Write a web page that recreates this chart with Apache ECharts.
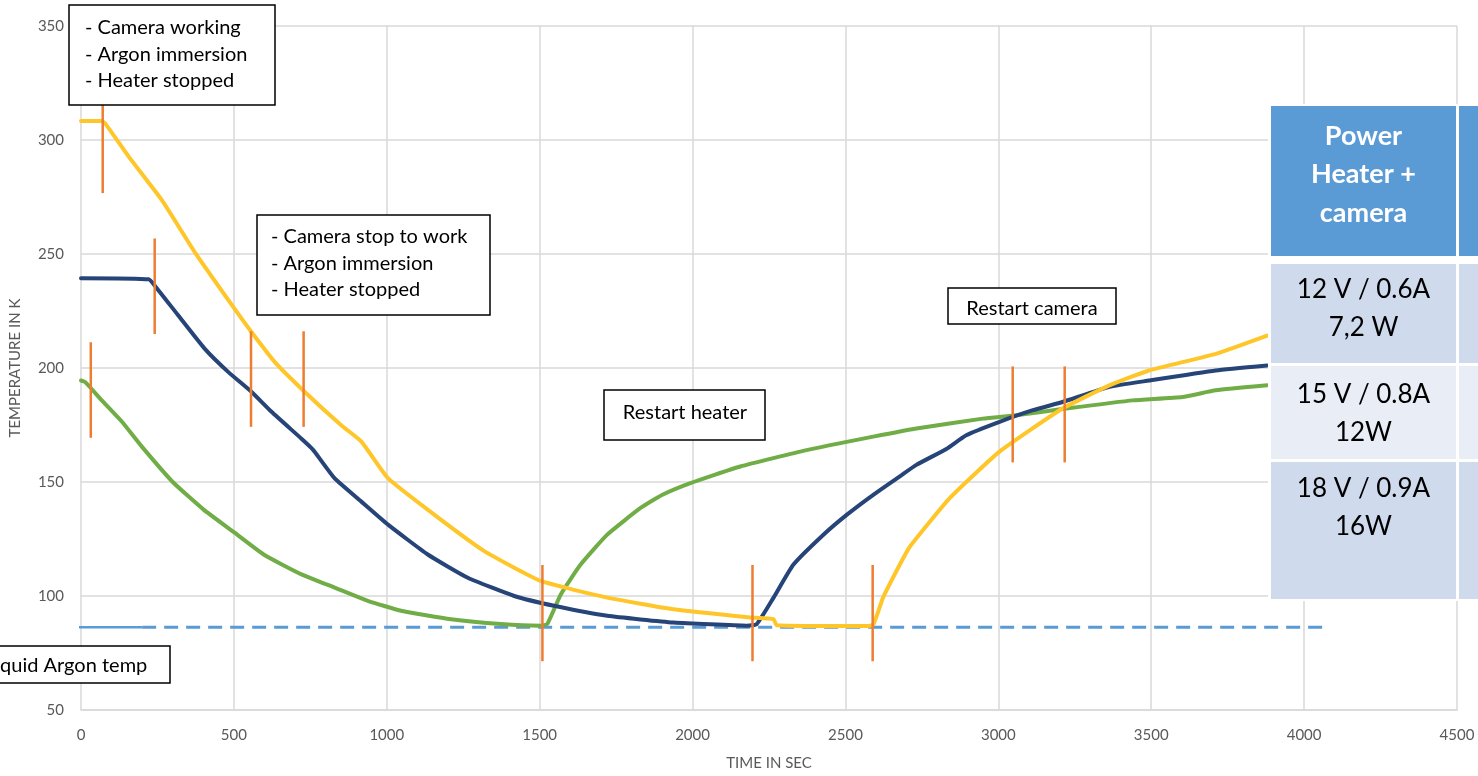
<!DOCTYPE html>
<html>
<head>
<meta charset="utf-8">
<title>Camera heater test</title>
<script src="https://cdn.jsdelivr.net/npm/echarts@6/dist/echarts.min.js"></script>
<style>
  html, body { margin: 0; padding: 0; background: #fff; }
  #chart { width: 1478px; height: 776px; }
</style>
</head>
<body>
<div id="chart"></div>
<script>
// yellow curve (time in s, temperature in K)
var yellowTime = [0, 68, 79, 156, 264, 373, 503, 558, 634, 732, 851, 917, 1004, 1156, 1319, 1504, 1721, 1938, 2189, 2265, 2275, 2569, 2591, 2623, 2678, 2710, 2841, 3004, 3210, 3363, 3493, 3711, 3879];
var yellowTemp = [308.3, 308.3, 307.3, 292.7, 273.7, 250.6, 225.8, 215.7, 202.6, 189.5, 174.9, 167.7, 151.7, 135.6, 119.7, 106.6, 99.3, 94.2, 90.6, 89.8, 87.2, 86.8, 87.4, 99.3, 113.8, 121.5, 142.9, 163.3, 182.2, 192.4, 198.9, 206.2, 214.2];

// blue curve
var blueTime = [0, 221, 242, 319, 405, 482, 558, 623, 721, 753, 764, 829, 916, 1004, 1134, 1265, 1417, 1547, 1721, 1938, 2178, 2210, 2265, 2330, 2428, 2504, 2591, 2678, 2732, 2830, 2895, 3004, 3113, 3210, 3363, 3493, 3711, 3879];
var blueTemp = [239.4, 238.9, 236, 222.9, 208.4, 198.2, 189.5, 180.8, 169.0, 165.0, 163.3, 151.7, 141.5, 131.3, 118.2, 108.0, 100.0, 95.7, 91.3, 88.4, 87.0, 87.7, 99.3, 113.8, 126.9, 135.6, 144.4, 152.5, 157.5, 164.5, 170.5, 176.4, 181.5, 185.1, 191.7, 194.5, 198.9, 201.1];

// green curve
var greenTime = [0, 14, 68, 134, 199, 300, 400, 500, 600, 721, 829, 938, 1047, 1210, 1373, 1504, 1525, 1569, 1634, 1721, 1830, 1900, 1993, 2156, 2373, 2591, 2732, 2949, 3058, 3221, 3439, 3602, 3711, 3879];
var greenTemp = [194.5, 193.8, 185.8, 176.4, 165.5, 150, 138, 128, 118, 109.5, 103.7, 97.9, 93.5, 89.8, 87.7, 87.0, 87.7, 100.7, 113.8, 126.9, 138.6, 144.3, 149.5, 156.8, 164.0, 169.9, 173.5, 177.8, 179.3, 182.2, 185.8, 187.3, 190.2, 192.4];

// liquid argon reference
var argonTemp = 86.3;
var argonSolidTime = [-258, 200];
var argonDashTime = [200, 4060];

// event markers: time, low, high
var markTime = [71, 241, 32, 556, 728, 1509, 2196, 2589, 3047, 3217];
var markLow = [276.7, 214.9, 169.4, 174.2, 174.2, 71.4, 71.4, 71.4, 158.6, 158.6];
var markHigh = [318.6, 256.8, 211.3, 216.1, 216.1, 113.6, 113.6, 113.6, 200.7, 200.7];

var xTicks = { min: 0, max: 4500, interval: 500 };
var yTicks = { min: 50, max: 350, interval: 50 };

// table on the right
var tableHeader = ['Power', 'Heater +', 'camera'];
var tableRows = [
  ['12 V / 0.6A', '7,2 W'],
  ['15 V / 0.8A', '12W'],
  ['18 V / 0.9A', '16W']
];

var FONT = 'Lato, "Open Sans", sans-serif';
var TOP_Z = 100;

function zip(ts, vs) {
  var out = [];
  for (var i = 0; i < ts.length; i++) {
    out.push([ts[i], vs[i]]);
  }
  return out;
}

function lineSeries(name, ts, vs, color, width) {
  return {
    name: name,
    type: 'line',
    data: zip(ts, vs),
    showSymbol: false,
    symbol: 'none',
    smooth: 0.15,
    lineStyle: { color: color, width: width, cap: 'round', join: 'round' },
    z: 3
  };
}

// text box with border
function makeBox(x, y, w, h, lines, tx, ty, gap, align) {
  var children = [{
    type: 'rect',
    z: TOP_Z,
    shape: { x: x, y: y, width: w, height: h },
    style: { fill: '#fff', stroke: '#000', lineWidth: 1.5 }
  }];
  for (var i = 0; i < lines.length; i++) {
    children.push({
      type: 'text',
      z: TOP_Z + 1,
      style: {
        text: lines[i], x: tx, y: ty + i * gap,
        font: '20px ' + FONT, fill: '#000',
        textAlign: align || 'left', textVerticalAlign: 'middle'
      }
    });
  }
  return { type: 'group', children: children };
}

function makeTable() {
  var children = [];
  var cellX = 1271, cellW = 185, col2X = 1459;
  var rowsY = [[106, 150], [264, 99], [366, 93], [462, 137]];
  var fills = ['#5b9bd5', '#cfdaed', '#e8edf6', '#cfdaed'];
  // white backing so the grid does not show through the gaps
  children.push({ type: 'rect', z: TOP_Z, shape: { x: 1268, y: 104, width: 220, height: 497 }, style: { fill: '#fff' } });
  for (var i = 0; i < rowsY.length; i++) {
    children.push({ type: 'rect', z: TOP_Z, shape: { x: cellX, y: rowsY[i][0], width: cellW, height: rowsY[i][1] }, style: { fill: fills[i] } });
    children.push({ type: 'rect', z: TOP_Z, shape: { x: col2X, y: rowsY[i][0], width: 30, height: rowsY[i][1] }, style: { fill: fills[i] } });
  }
  for (var h = 0; h < tableHeader.length; h++) {
    children.push({
      type: 'text',
      z: TOP_Z + 1,
      style: {
        text: tableHeader[h], x: cellX + cellW / 2, y: 136 + h * 38.5,
        font: 'bold 27px ' + FONT, fill: '#fff',
        textAlign: 'center', textVerticalAlign: 'middle'
      }
    });
  }
  var rowTop = [290, 395, 489];
  for (var r = 0; r < tableRows.length; r++) {
    for (var k = 0; k < tableRows[r].length; k++) {
      children.push({
        type: 'text',
        z: TOP_Z + 1,
        style: {
          text: tableRows[r][k], x: cellX + cellW / 2, y: rowTop[r] + k * 38,
          font: '26px ' + FONT, fill: '#000',
          textAlign: 'center', textVerticalAlign: 'middle'
        }
      });
    }
  }
  return { type: 'group', children: children };
}

var chart = echarts.init(document.getElementById('chart'));

var markerData = [];
for (var m = 0; m < markTime.length; m++) {
  markerData.push([markTime[m], markLow[m], markHigh[m]]);
}

var option = {
  backgroundColor: '#fff',
  animation: false,
  grid: { left: 79, right: 21, top: 26, bottom: 63, containLabel: false },
  xAxis: {
    type: 'value',
    min: xTicks.min, max: xTicks.max, interval: xTicks.interval,
    name: 'TIME IN SEC', nameLocation: 'middle', nameGap: 46,
    nameTextStyle: { color: '#595959', fontSize: 15, fontFamily: FONT },
    axisLine: { show: true, lineStyle: { color: '#d9d9d9', width: 1.5 } },
    axisTick: { show: false },
    axisLabel: {
      color: '#595959', fontSize: 15, fontFamily: FONT, margin: 18,
      formatter: function (v) { return String(v); }
    },
    splitLine: { show: true, lineStyle: { color: '#d9d9d9', width: 1.5 } }
  },
  yAxis: {
    type: 'value',
    min: yTicks.min, max: yTicks.max, interval: yTicks.interval,
    name: 'TEMPERATURE IN K', nameLocation: 'middle', nameGap: 58,
    nameTextStyle: { color: '#595959', fontSize: 15, fontFamily: FONT },
    axisLine: { show: false },
    axisTick: { show: false },
    axisLabel: { color: '#595959', fontSize: 15, fontFamily: FONT, margin: 17 },
    splitLine: { show: true, lineStyle: { color: '#d9d9d9', width: 1.5 } }
  },
  series: [
    {
      name: 'argon',
      type: 'line',
      data: zip(argonSolidTime, [argonTemp, argonTemp]),
      symbol: 'none',
      clip: false,
      lineStyle: { color: '#5b9bd5', width: 2.5 },
      z: 2
    },
    {
      name: 'argon dashed',
      type: 'line',
      data: zip(argonDashTime, [argonTemp, argonTemp]),
      symbol: 'none',
      lineStyle: { color: '#5b9bd5', width: 3, type: [14, 8] },
      z: 2
    },
    lineSeries('green', greenTime, greenTemp, '#70ad47', 4),
    lineSeries('blue', blueTime, blueTemp, '#264478', 4),
    lineSeries('yellow', yellowTime, yellowTemp, '#ffc629', 4),
    {
      name: 'events',
      type: 'custom',
      data: markerData,
      z: 5,
      renderItem: function (params, api) {
        var p1 = api.coord([api.value(0), api.value(1)]);
        var p2 = api.coord([api.value(0), api.value(2)]);
        return {
          type: 'line',
          shape: { x1: p1[0], y1: p1[1], x2: p2[0], y2: p2[1] },
          style: { stroke: '#ed7d31', lineWidth: 2.5 }
        };
      }
    }
  ],
  graphic: [
    makeBox(69, 5, 206, 100, ['- Camera working', '- Argon immersion', '- Heater stopped'], 85, 28, 26.5),
    makeBox(257, 215, 233, 100, ['- Camera stop to work', '- Argon immersion', '- Heater stopped'], 271, 237, 26.5),
    makeBox(948, 288, 168, 36, ['Restart camera'], 1032, 309, 0, 'center'),
    makeBox(604, 390, 161, 50, ['Restart heater'], 685, 413, 0, 'center'),
    makeBox(-30, 646, 200, 37, ['Liquid Argon temp'], -15, 666, 0),
    makeTable()
  ]
};

chart.setOption(option);
</script>
</body>
</html>
